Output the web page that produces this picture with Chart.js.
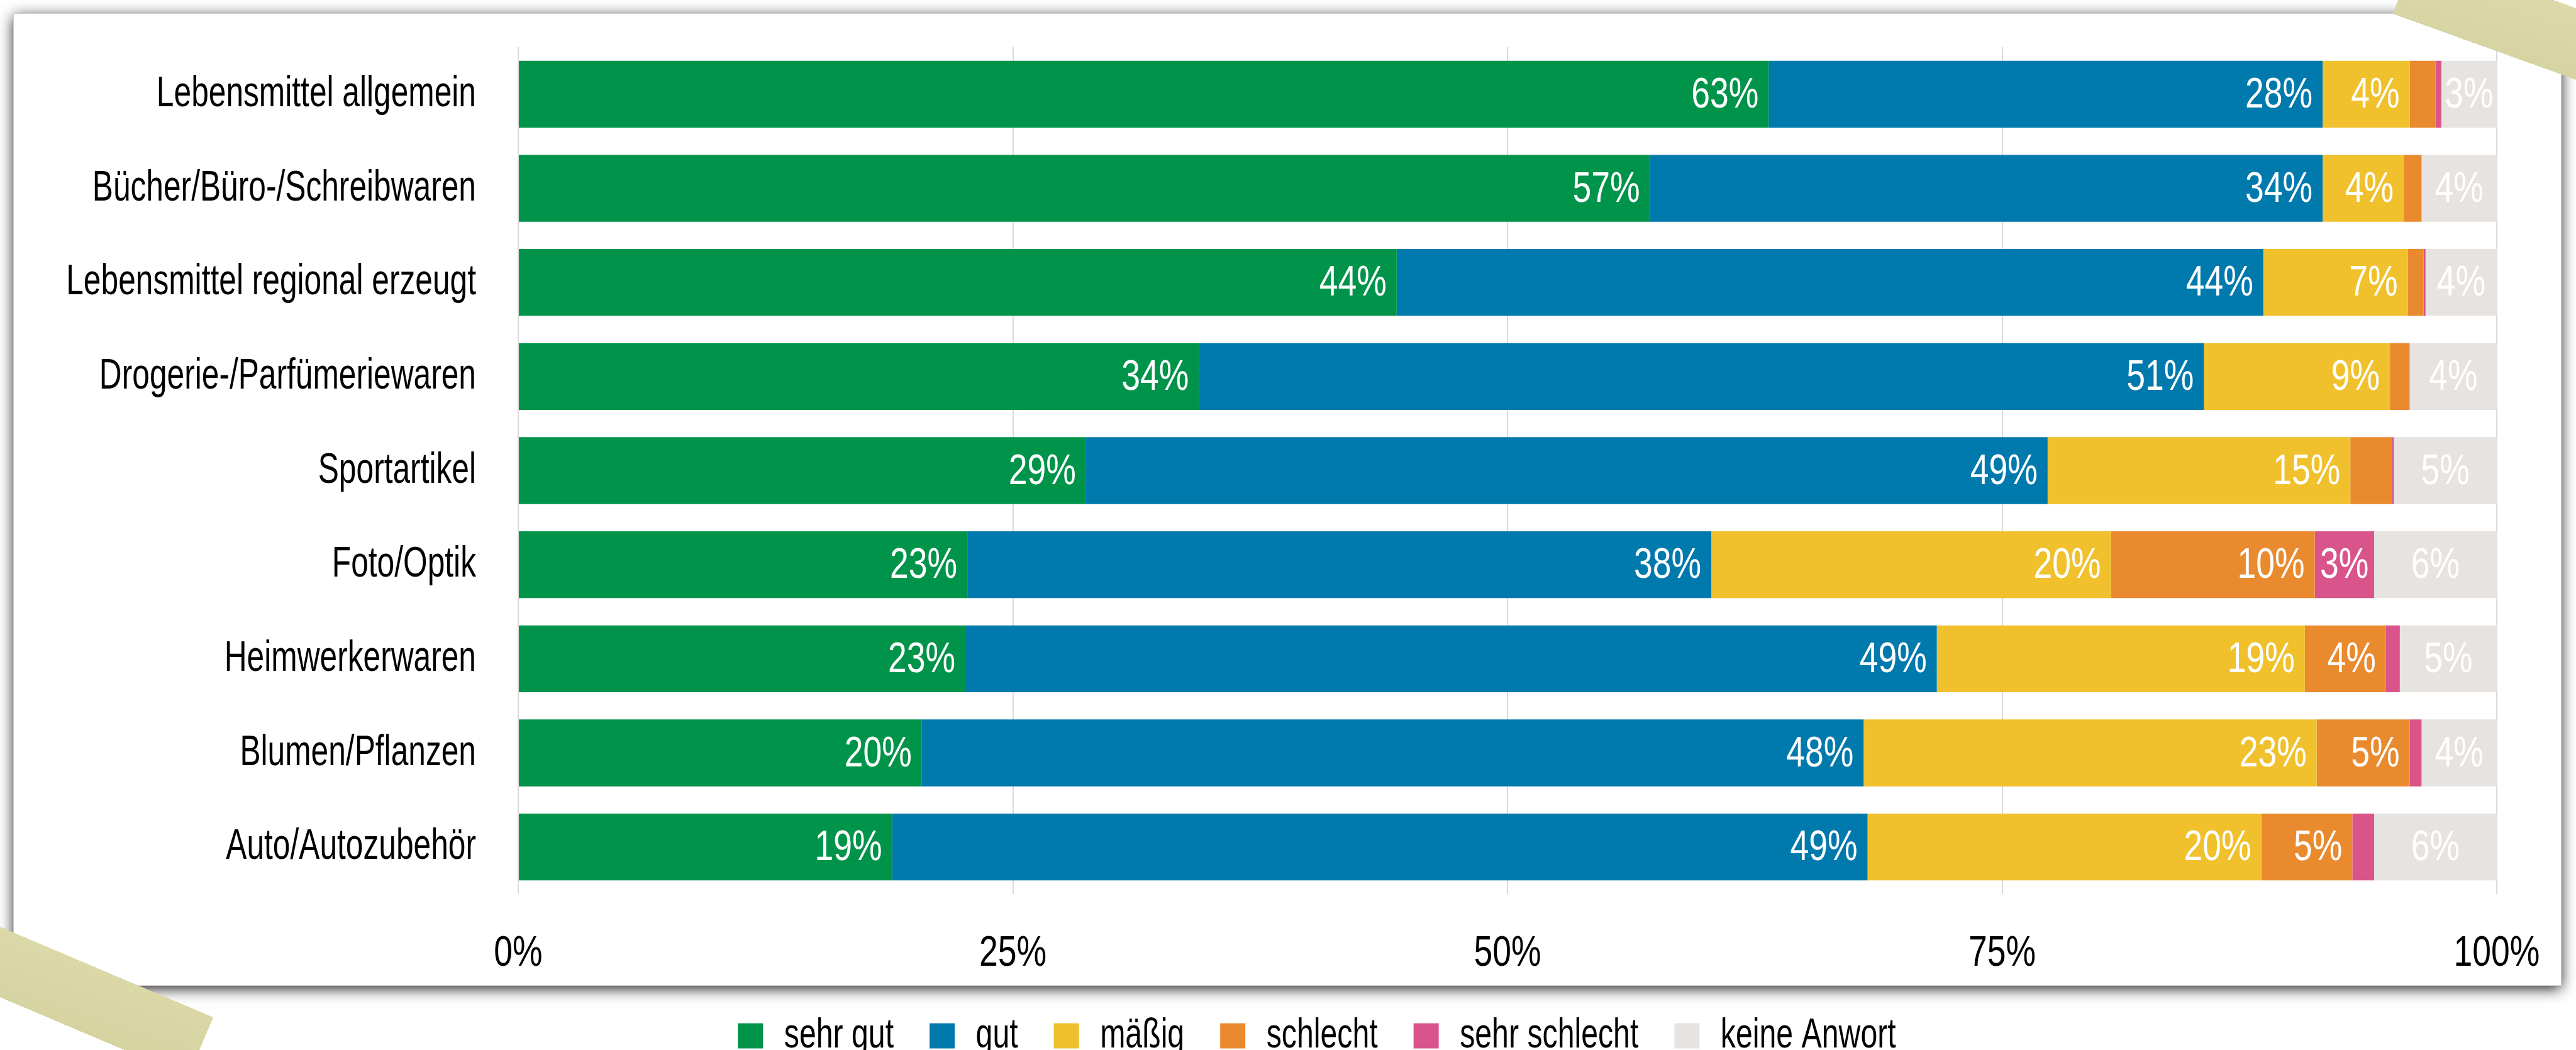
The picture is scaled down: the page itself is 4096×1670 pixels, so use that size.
<!DOCTYPE html>
<html lang="de">
<head>
<meta charset="utf-8">
<title>Bewertung des Angebots</title>
<script src="https://cdn.jsdelivr.net/npm/chart.js@4.4.1/dist/chart.umd.min.js"></script>
<style>
  html, body { margin: 0; padding: 0; background: #fff; overflow: hidden; }
  #wrap { position: relative; width: 4096px; height: 1670px; }
  .card {
    position: absolute; left: 22px; top: 22px; width: 4050px; height: 1545px; background: #fff;
    box-shadow: 0 0 0 1px #d2cac5, 0 5px 22px rgba(0, 0, 0, 0.9);
  }
  #chart { position: absolute; left: 0; top: 0; }
  .tape { position: absolute; background: linear-gradient(175deg, #dddbab, #d4d29f); }
  .tape-tr { left: 3805px; top: -85px; width: 600px; height: 107px; transform-origin: 0 100%; transform: rotate(19.8deg); }
  .tape-bl { left: -361px; top: 1618px; width: 700px; height: 103px; transform-origin: 100% 0; transform: rotate(23deg); }
</style>
</head>
<body>
<div id="wrap">
  <div class="card"></div>
  <canvas id="chart" width="4096" height="1670"></canvas>
  <div class="tape tape-tr"></div>
  <div class="tape tape-bl"></div>
</div>
<script>
// Kategorien und Werte (Anteile in %)
const categories = [
    'Lebensmittel allgemein',
    'Bücher/Büro-/Schreibwaren',
    'Lebensmittel regional erzeugt',
    'Drogerie-/Parfümeriewaren',
    'Sportartikel',
    'Foto/Optik',
    'Heimwerkerwaren',
    'Blumen/Pflanzen',
    'Auto/Autozubehör'
];
const sehrGut      = [63.2, 57.2, 44.4, 34.4, 28.7, 22.7, 22.6, 20.4, 18.9];
const gut          = [28.0, 34.0, 43.8, 50.8, 48.6, 37.6, 49.1, 47.6, 49.3];
const maessig      = [4.4, 4.1, 7.3, 9.4, 15.3, 20.2, 18.6, 22.9, 19.9];
const schlecht     = [1.3, 0.9, 0.8, 1.0, 2.1, 10.3, 4.1, 4.7, 4.6];
const sehrSchlecht = [0.3, 0, 0.1, 0, 0.1, 3.0, 0.7, 0.6, 1.1];
const keineAntwort = [2.8, 3.8, 3.6, 4.4, 5.2, 6.2, 4.9, 3.8, 6.2];

const seriesNames  = ['sehr gut', 'gut', 'mäßig', 'schlecht', 'sehr schlecht', 'keine Anwort'];
const seriesColors = ['#00934a', '#0079ad', '#f0c12c', '#ea8a2e', '#d9548a', '#e6e3e0'];
const xTicks = [0, 25, 50, 75, 100];

const FONT = "'Liberation Sans', Arial, sans-serif";
// Schrift schmaler zeichnen (Condensed-Optik), Zahlen etwas breiter als Text
const narrow = text => /^\d/.test(text) ? 0.775 : 0.72;

const ctx = document.getElementById('chart').getContext('2d');

// fillText/measureText so umbiegen, dass alle Texte gestaucht werden
const rawFill = ctx.fillText.bind(ctx);
const rawMeasure = ctx.measureText.bind(ctx);
ctx.fillText = (text, x, y) => rawFill(text, x, y, Math.max(1, rawMeasure(text).width * narrow(String(text))));
ctx.measureText = text => {
    const m = rawMeasure(text);
    const f = narrow(String(text));
    return {
        width: m.width * f,
        actualBoundingBoxLeft: m.actualBoundingBoxLeft * f,
        actualBoundingBoxRight: m.actualBoundingBoxRight * f,
        actualBoundingBoxAscent: m.actualBoundingBoxAscent,
        actualBoundingBoxDescent: m.actualBoundingBoxDescent
    };
};

// Prozentwerte in die Balken schreiben
const segmentLabels = {
    id: 'segmentLabels',
    afterDatasetsDraw(chart) {
        const c = chart.ctx;
        c.save();
        c.font = '69px ' + FONT;
        c.fillStyle = '#fff';
        c.textBaseline = 'middle';
        chart.data.datasets.forEach((ds, i) => {
            chart.getDatasetMeta(i).data.forEach((bar, j) => {
                const v = Math.round(ds.data[j]);
                if (v < 3) return;
                if (i >= 4) {
                    c.textAlign = 'center';
                    c.fillText(v + '%', (bar.x + bar.base) / 2, bar.y + 2);
                } else {
                    c.textAlign = 'right';
                    c.fillText(v + '%', bar.x - 16, bar.y + 2);
                }
            });
        });
        c.restore();
    }
};

const seriesData = [sehrGut, gut, maessig, schlecht, sehrSchlecht, keineAntwort];

const chart = new Chart(ctx, {
    type: 'bar',
    data: {
        labels: categories,
        datasets: seriesData.map((d, i) => ({
            label: seriesNames[i],
            data: d,
            backgroundColor: seriesColors[i],
            borderWidth: 0,
            barPercentage: 0.71,
            categoryPercentage: 1
        }))
    },
    options: {
        indexAxis: 'y',
        responsive: false,
        animation: false,
        devicePixelRatio: 1,
        layout: { padding: { top: 75, right: 0, bottom: 0, left: 92 } },
        scales: {
            x: {
                stacked: true,
                min: 0,
                max: 100,
                afterBuildTicks: scale => { scale.ticks = xTicks.map(v => ({ value: v })); },
                afterFit: scale => { scale.height = 135; scale.paddingLeft = 0; scale.paddingRight = 0; },
                grid: { color: '#d9d9d9', lineWidth: 2, drawTicks: false },
                border: { display: false },
                ticks: {
                    padding: 54,
                    color: '#000',
                    font: { family: FONT, size: 69 },
                    callback: value => value + '%'
                }
            },
            y: {
                stacked: true,
                afterFit: scale => { scale.width = 732; scale.paddingTop = 0; scale.paddingBottom = 0; },
                grid: { display: false, drawTicks: false },
                border: { display: false },
                ticks: {
                    padding: 67,
                    color: '#000',
                    font: { family: FONT, size: 69 }
                }
            },
            // leere Achse rechts, hält den Platz bis zum Rand frei
            rechts: {
                type: 'category',
                position: 'right',
                afterFit: scale => { scale.width = 126; scale.paddingTop = 0; scale.paddingBottom = 0; },
                grid: { display: false, drawTicks: false },
                border: { display: false },
                ticks: { display: false }
            }
        },
        plugins: {
            legend: {
                position: 'bottom',
                maxHeight: 113,
                labels: {
                    boxWidth: 40,
                    boxHeight: 40,
                    padding: 57,
                    color: '#000',
                    font: { family: FONT, size: 67 }
                }
            },
            tooltip: { enabled: false }
        }
    },
    plugins: [segmentLabels]
});
</script>
</body>
</html>
